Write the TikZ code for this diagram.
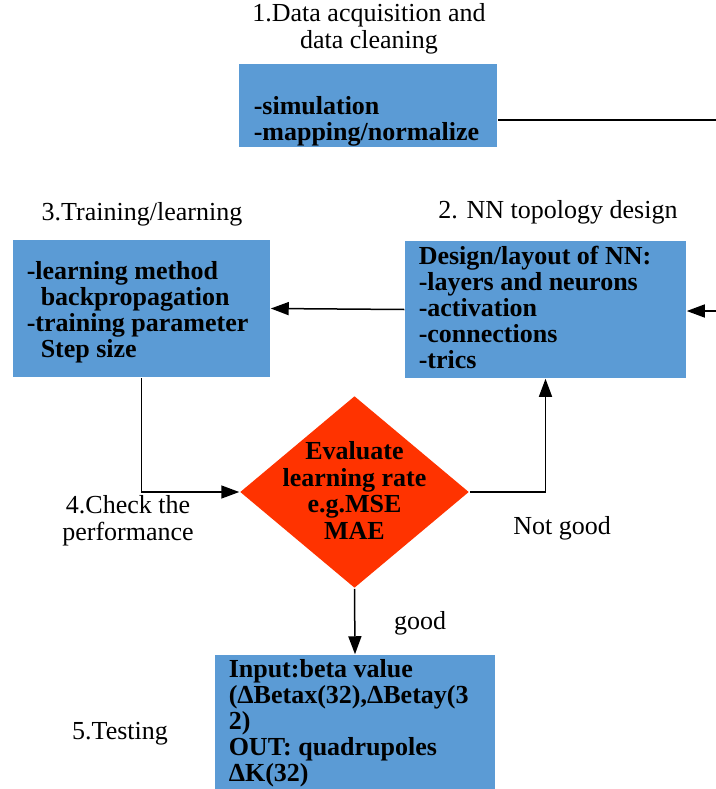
\documentclass[tikz,border=0pt]{standalone}
\usepackage{fontspec}
\setmainfont{Liberation Serif}
\usetikzlibrary{shapes.geometric,arrows.meta}
\definecolor{boxblue}{HTML}{5B9BD5}
\definecolor{evalred}{HTML}{FF3300}
\begin{document}
\begin{tikzpicture}[x=1pt,y=-1pt,line width=1.5pt,
    box node/.style={rectangle,fill=boxblue,draw=none,inner sep=0pt},
    box text/.style={anchor=base west,align=left,inner sep=0pt,font=\fontsize{26}{26}\selectfont\bfseries},
    label text/.style={anchor=base,align=center,inner sep=0pt,font=\fontsize{26}{27}\selectfont},
    eval node/.style={diamond,fill=evalred,draw=none,inner sep=0pt,minimum width=229pt,minimum height=192pt},
    flow/.style={-{Triangle[length=18pt,width=13pt]}}]
    \useasboundingbox (0,0) rectangle (715,789);

    % boxes
    \node[box node,minimum width=258pt,minimum height=83pt] at (368,105.5) (acq) {};
    \node[box node,minimum width=281pt,minimum height=137pt] at (545.5,309.5) (topo) {};
    \node[box node,minimum width=257pt,minimum height=137pt] at (141.5,308.5) (train) {};
    \node[box node,minimum width=280pt,minimum height=150pt] at (355,730) (test) {};
    \node[eval node] at (354.5,492) (eval) {};

    % box texts (anchored at the last baseline)
    \node[box text] at (253,140) (acq text) {-simulation\\-mapping/normalize};
    \node[box text] at (418,368) (topo text) {Design/layout of NN:\\-layers and neurons\\-activation\\-connections\\-trics};
    \node[box text] at (26,357) (train text) {-learning method\\\hspace*{14pt}backpropagation\\-training parameter\\\hspace*{14pt}Step size};
    \node[box text] at (228,781) (test text) {Input:beta value\\(ΔBetax(32),ΔBetay(3\\2)\\OUT: quadrupoles\\ΔK(32)};
    \node[box text,anchor=base,align=center,font=\fontsize{26}{26.5}\selectfont\bfseries] at (354.5,539) (eval text) {Evaluate\\learning rate\\e.g.MSE\\MAE};

    % step labels
    \node[label text] at (369,49) (acq label) {1.Data acquisition and\\data cleaning};
    \node[label text] at (558,218) (topo label) {2. NN topology design};
    \node[label text] at (142,220) (train label) {3.Training/learning};
    \node[label text] at (128,540) (check label) {4.Check the\\performance};
    \node[label text] at (120,739) (test label) {5.Testing};
    \node[label text] at (562,534) (bad label) {Not good};
    \node[label text] at (420,629) (good label) {good};

    % connectors
    \coordinate (loop top) at (725,120);
    \coordinate (loop bottom) at (725,311);
    \draw (acq.east |- loop top) -- (loop top) -- (loop bottom);
    \draw[flow] (loop bottom) -- (topo.east |- loop bottom);
    \draw[flow] (topo.west) -- (train.east);
    \draw[flow] (train.south) |- (eval.west);
    \draw[flow] (eval.east) -| (topo.south);
    \draw[flow] (eval.south) -- (test.north);
\end{tikzpicture}
\end{document}
